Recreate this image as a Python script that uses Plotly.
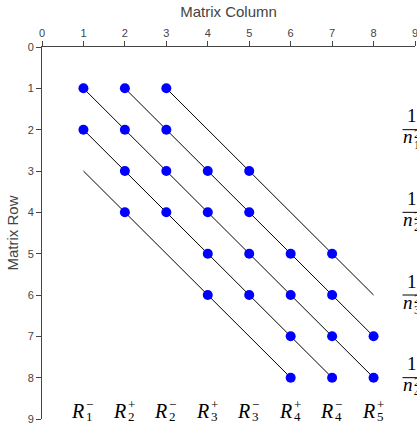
import plotly.graph_objects as go

# ---- data ----
dot_cols = [1, 2, 3, 1, 2, 3, 2, 3, 4, 5, 2, 3, 4, 5, 4, 5, 6, 7, 4, 5, 6, 7, 6, 7, 8, 6, 7, 8]
dot_rows = [1, 1, 1, 2, 2, 2, 3, 3, 3, 3, 4, 4, 4, 4, 5, 5, 5, 5, 6, 6, 6, 6, 7, 7, 7, 8, 8, 8]

line_start_cols = [1, 2, 3, 1, 1]
line_start_rows = [1, 1, 1, 2, 3]
line_end_cols = [8, 8, 8, 7, 6]
line_end_rows = [8, 7, 6, 8, 8]

label_cols = [1, 2, 3, 4, 5, 6, 7, 8]
label_subs = ["1", "2", "2", "3", "3", "4", "4", "5"]
label_sups = ["−", "+", "−", "+", "−", "+", "−", "+"]
label_row = 8.8

frac_rows = [2, 4, 6, 8]
frac_subs = ["1", "2", "3", "4"]
frac_col = 8.93

x_ticks = list(range(0, 10))
y_ticks = list(range(0, 10))

SERIF = "Liberation Serif"

fig = go.Figure()

for xs, ys, xe, ye in zip(line_start_cols, line_start_rows, line_end_cols, line_end_rows):
    fig.add_trace(go.Scatter(x=[xs, xe], y=[ys, ye], mode="lines",
                             line=dict(color="black", width=1), showlegend=False,
                             hoverinfo="skip"))

fig.add_trace(go.Scatter(x=dot_cols, y=dot_rows, mode="markers",
                         marker=dict(color="#0000ff", size=10), showlegend=False))

ann = []
for c, sb, sp in zip(label_cols, label_subs, label_sups):
    ann.append(dict(x=c, y=label_row, text="<i>R</i>", showarrow=False,
                    xanchor="right", yanchor="middle", xshift=3,
                    font=dict(family=SERIF, size=20, color="black")))
    ann.append(dict(x=c, y=label_row, text=sb, showarrow=False,
                    xanchor="left", yanchor="middle", xshift=1, yshift=-6,
                    font=dict(family=SERIF, size=13, color="black")))
    ann.append(dict(x=c, y=label_row, text=sp, showarrow=False,
                    xanchor="left", yanchor="middle", xshift=1, yshift=6,
                    font=dict(family=SERIF, size=13, color="black")))

shapes = []
for r, sb in zip(frac_rows, frac_subs):
    ann.append(dict(x=frac_col, y=r, text="1", showarrow=False,
                    xanchor="center", yanchor="middle", yshift=14,
                    font=dict(family=SERIF, size=19, color="black")))
    ann.append(dict(x=frac_col, y=r, text="<i>n</i>", showarrow=False,
                    xanchor="left", yanchor="middle", xshift=-11, yshift=-7,
                    font=dict(family=SERIF, size=19, color="black")))
    ann.append(dict(x=frac_col, y=r, text=sb, showarrow=False,
                    xanchor="left", yanchor="middle", xshift=0, yshift=-15,
                    font=dict(family=SERIF, size=12, color="black")))
    ann.append(dict(x=frac_col, y=r, text="2", showarrow=False,
                    xanchor="left", yanchor="middle", xshift=0, yshift=-4,
                    font=dict(family=SERIF, size=12, color="black")))
    shapes.append(dict(type="line", xref="paper", yref="y",
                       x0=0.9665, x1=1.06, y0=r, y1=r,
                       line=dict(color="black", width=1)))

axis_common = dict(showgrid=False, zeroline=False, showline=True, linecolor="#444",
                   linewidth=1, ticks="outside", ticklen=5, tickcolor="#444",
                   tickfont=dict(family="Arial", size=11, color="#444"),
                   automargin=False, tickmode="array", ticklabeloverflow="allow")

fig.update_layout(
    width=417, height=423,
    margin=dict(l=42, r=2, t=47, b=4, pad=0),
    paper_bgcolor="white", plot_bgcolor="white",
    xaxis=dict(range=[0, 9], side="top", tickvals=x_ticks, ticktext=[str(v) for v in x_ticks],
               title=dict(text="Matrix Column", font=dict(family="Arial", size=15, color="#444"),
                          standoff=5),
               **axis_common),
    yaxis=dict(range=[9, 0], tickvals=y_ticks, ticktext=[str(v) for v in y_ticks],
               title=dict(text="Matrix Row", font=dict(family="Arial", size=15, color="#444"),
                          standoff=5),
               **axis_common),
    annotations=ann, shapes=shapes,
)

fig.write_html("out.html", config={"displayModeBar": False},
               post_script="document.body.style.margin='0';document.body.style.overflow='hidden';")
